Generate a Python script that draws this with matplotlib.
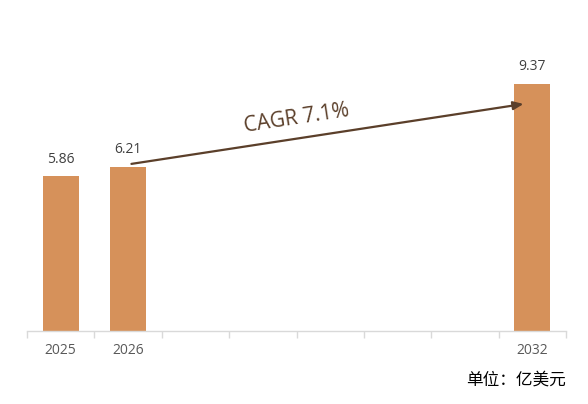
import matplotlib
matplotlib.use("Agg")
import matplotlib.pyplot as plt

categories = ["2025", "2026", "2027", "2028", "2029", "2030", "2031", "2032"]
values = [5.86, 6.21, None, None, None, None, None, 9.37]
tick_labels = ["2025", "2026", "", "", "", "", "", "2032"]
cagr_text = "CAGR 7.1%"
unit_text = "单位：亿美元"

W, H = 588, 404
fig = plt.figure(figsize=(W / 100, H / 100), dpi=100)
ax = fig.add_axes([27 / W, (H - 331) / H, (566 - 27) / W, 264 / H])

bar_color = "#D6915A"
xs = [i for i, v in enumerate(values) if v is not None]
vs = [v for v in values if v is not None]
ax.bar(xs, vs, width=0.53, color=bar_color, zorder=2)
for x, v in zip(xs, vs):
    ax.annotate(f"{v:.2f}", (x, v), xytext=(0, 7), textcoords="offset points",
                ha="center", va="bottom", fontsize=10, color="#404040",
                family="Open Sans")

ax.set_xlim(-0.5, len(categories) - 0.5)
ax.set_ylim(0, 10)
ax.set_yticks([])
ax.set_xticks([i - 0.5 for i in range(len(categories) + 1)], minor=False)
ax.set_xticklabels([""] * (len(categories) + 1))
ax.set_xticks(range(len(categories)), minor=True)
ax.set_xticklabels(tick_labels, minor=True, fontsize=10, color="#595959", family="Open Sans")
ax.tick_params(axis="x", which="major", length=5, color="#D9D9D9", width=1)
ax.tick_params(axis="x", which="minor", length=0, pad=9)
for s in ["top", "right", "left"]:
    ax.spines[s].set_visible(False)
ax.spines["bottom"].set_color("#D9D9D9")
ax.spines["bottom"].set_linewidth(1)

arrow_color = "#5B3F2A"
ax.annotate("", xy=(6.87, 8.6), xytext=(1.05, 6.33),
            arrowprops=dict(arrowstyle="-|>,head_length=0.6,head_width=0.25",
                            color=arrow_color, lw=1.6, shrinkA=0, shrinkB=0), zorder=3)
ax.text(3.5, 8.05, cagr_text, rotation=8.7, ha="center", va="center",
        fontsize=15, color=arrow_color, family="Open Sans",
        rotation_mode="anchor")

fig.text(566 / W, (H - 380) / H, unit_text, ha="right", va="center", fontsize=12,
         color="black", family=["Noto Sans CJK SC", "DejaVu Sans"])

fig.savefig("out.png", dpi=100, facecolor="white")
